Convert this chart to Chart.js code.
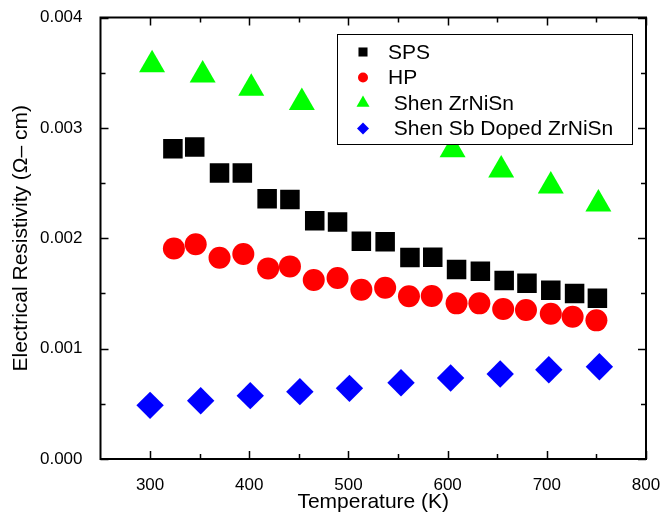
<!DOCTYPE html>
<html>
<head>
<meta charset="utf-8">
<script src="https://cdn.jsdelivr.net/npm/chart.js@4.4.1/dist/chart.umd.min.js"></script>
<style>
  html, body { margin: 0; padding: 0; background: #fff; overflow: hidden; }
  #wrap { width: 662px; height: 521px; }
</style>
</head>
<body>
<div id="wrap"><canvas id="chart"></canvas></div>
<script>
// temperatures (K) and resistivity (ohm cm)
const tempSPS = [323, 345, 370, 393, 418, 441, 466, 489, 513, 537, 562, 585, 609, 633, 657, 680, 704, 728, 751];
const rhoSPS = [0.002811, 0.002826, 0.002591, 0.002591, 0.002358, 0.002352, 0.002159, 0.002147, 0.001972, 0.001968,
                0.001825, 0.001827, 0.001716, 0.001700, 0.001617, 0.001592, 0.001528, 0.001499, 0.001456];

const tempHP = [324, 346, 370, 394, 419, 441, 465, 489, 513, 537, 561, 584, 609, 632, 656, 679, 704, 726, 750];
const rhoHP = [0.001908, 0.001945, 0.001823, 0.001857, 0.001727, 0.001745, 0.001621, 0.001639, 0.001534, 0.001552,
               0.001474, 0.001476, 0.001410, 0.001410, 0.001359, 0.001350, 0.001316, 0.001289, 0.001256];

// two Shen ZrNiSn points sit behind the legend box and can't be read
const tempShen = [302, 353, 402, 453, 605, 654, 704, 752];
const rhoShen = [0.003571, 0.003478, 0.003358, 0.003229, 0.002801, 0.002618, 0.002473, 0.002310];

const tempShenSb = [300, 351, 401, 451, 501, 553, 603, 653, 702, 753];
const rhoShenSb = [0.000486, 0.000528, 0.000574, 0.000610, 0.000640, 0.000691, 0.000734, 0.000770, 0.000809, 0.000836];

const seriesLabels = ['SPS', 'HP', ' Shen ZrNiSn', ' Shen Sb Doped ZrNiSn'];

const FONT = '"Liberation Sans", Arial, Helvetica, sans-serif';
Chart.defaults.font.family = FONT;
Chart.defaults.color = '#000';

function toPoints(xs, ys) {
    return xs.map((t, i) => ({ x: t, y: ys[i] }));
}

function series(label, xs, ys, color, style, radius) {
    return {
        label: label,
        data: toPoints(xs, ys),
        backgroundColor: color,
        borderColor: color,
        pointStyle: style,
        pointRadius: radius,
        pointHoverRadius: radius,
        pointBorderWidth: 0,
        showLine: false
    };
}

// boxed axes with inward major/minor ticks on all four sides, plus the boxed legend on top of the data
const frameAndLegend = {
    id: 'frameAndLegend',
    afterDatasetsDraw(chart) {
        const { ctx, chartArea: a, scales } = chart;
        const xs = scales.x, ys = scales.y;
        ctx.save();
        ctx.strokeStyle = '#000';

        const major = v => v.ticks.map(t => t.value);
        const minor = vals => vals.slice(1).map((v, i) => (v + vals[i]) / 2);

        ctx.lineWidth = 1.5;
        ctx.beginPath();
        const xMaj = major(xs), yMaj = major(ys);
        [[xMaj, 8], [minor(xMaj), 5]].forEach(([vals, len]) => {
            vals.forEach(v => {
                const px = Math.round(xs.getPixelForValue(v)) + 0.5;
                ctx.moveTo(px, a.bottom); ctx.lineTo(px, a.bottom - len);
                ctx.moveTo(px, a.top); ctx.lineTo(px, a.top + len);
            });
        });
        [[yMaj, 8], [minor(yMaj), 5]].forEach(([vals, len]) => {
            vals.forEach(v => {
                const py = Math.round(ys.getPixelForValue(v)) + 0.5;
                ctx.moveTo(a.left, py); ctx.lineTo(a.left + len, py);
                ctx.moveTo(a.right, py); ctx.lineTo(a.right - len, py);
            });
        });
        ctx.stroke();

        ctx.lineWidth = 2;
        ctx.strokeRect(a.left, a.top, a.right - a.left, a.bottom - a.top);

        // legend box
        const bx = 337, by = 34, bw = 295, bh = 110;
        ctx.fillStyle = '#fff';
        ctx.fillRect(bx, by, bw, bh);
        ctx.lineWidth = 1;
        ctx.strokeRect(bx + 0.5, by + 0.5, bw, bh);
        const legendRadius = { rect: 6.4, circle: 5, triangle: 7.5, rectRot: 6 };
        ctx.font = '21px ' + FONT;
        ctx.textBaseline = 'middle';
        ctx.textAlign = 'left';
        chart.data.datasets.forEach((d, i) => {
            const cy = by + 18 + i * 25.5;
            ctx.fillStyle = d.backgroundColor;
            Chart.helpers.drawPoint(ctx, {
                pointStyle: d.pointStyle,
                radius: legendRadius[d.pointStyle],
                rotation: 0,
                borderWidth: 0
            }, 363, cy);
            ctx.fillStyle = '#000';
            ctx.fillText(d.label, 388, cy + 1);
        });
        ctx.restore();
    }
};

const ctx = document.querySelector('#chart').getContext('2d');
const chart = new Chart(ctx, {
    type: 'scatter',
    data: {
        datasets: [
            series(seriesLabels[0], tempSPS, rhoSPS, '#000000', 'rect', 13.8),
            series(seriesLabels[1], tempHP, rhoHP, '#ff0000', 'circle', 11),
            series(seriesLabels[2], tempShen, rhoShen, '#00ff00', 'triangle', 15),
            series(seriesLabels[3], tempShenSb, rhoShenSb, '#0000ff', 'rectRot', 13.7)
        ]
    },
    options: {
        responsive: true,
        maintainAspectRatio: false,
        animation: false,
        layout: {
            padding: { top: 17.5, right: 16, left: 0, bottom: 0 }
        },
        plugins: {
            legend: { display: false },
            tooltip: { enabled: false }
        },
        scales: {
            x: {
                type: 'linear',
                min: 250,
                max: 800,
                afterFit: s => { s.height = 62; s.paddingLeft = 0; s.paddingRight = 0; },
                border: { display: false },
                grid: { display: false },
                ticks: {
                    stepSize: 100,
                    includeBounds: false,
                    padding: 8,
                    maxRotation: 0,
                    color: '#000',
                    font: { size: 17 }
                },
                title: {
                    display: true,
                    text: 'Temperature (K)',
                    color: '#000',
                    font: { size: 21 },
                    padding: { top: 0, bottom: 6 }
                }
            },
            y: {
                type: 'linear',
                min: 0,
                max: 0.004,
                afterFit: s => { s.width = 100.5; s.paddingTop = 0; s.paddingBottom = 0; },
                border: { display: false },
                grid: { display: false },
                ticks: {
                    stepSize: 0.001,
                    padding: 10,
                    color: '#000',
                    font: { size: 17 },
                    callback: v => v.toFixed(3)
                },
                title: {
                    display: true,
                    text: 'Electrical Resistivity (Ω– cm)',
                    color: '#000',
                    font: { size: 21 },
                    padding: { top: 9, bottom: 0 }
                }
            }
        }
    },
    plugins: [frameAndLegend]
});
</script>
</body>
</html>
